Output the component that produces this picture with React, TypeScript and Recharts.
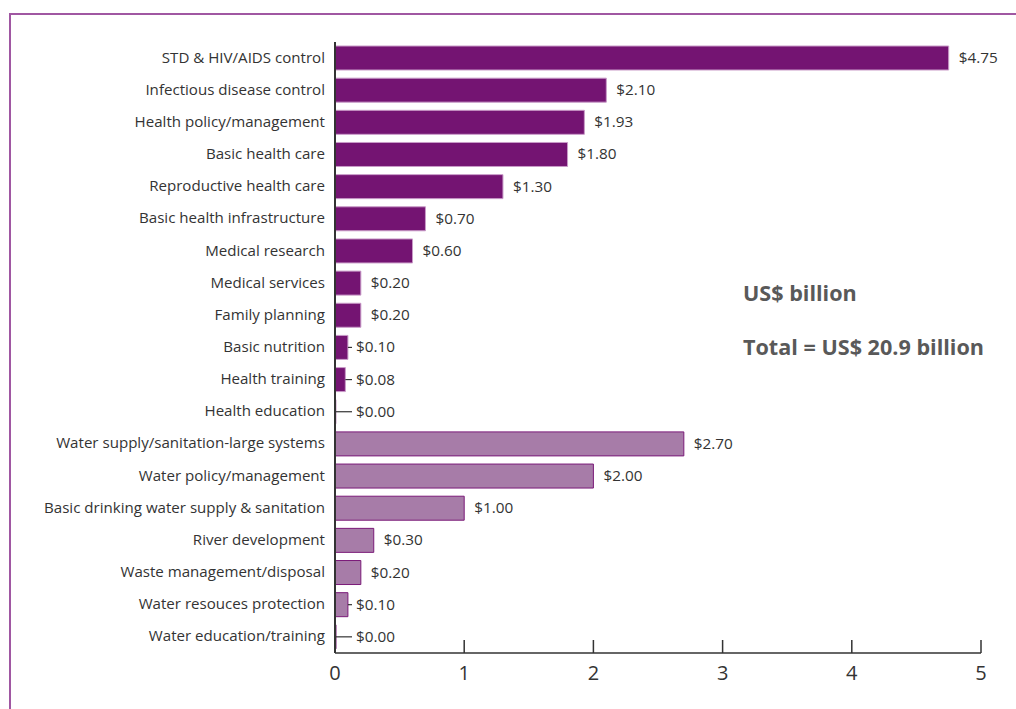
import React from "react";
import { BarChart, Bar, XAxis, YAxis, Cell, LabelList } from "recharts";

const healthCategories = [
  "STD & HIV/AIDS control",
  "Infectious disease control",
  "Health policy/management",
  "Basic health care",
  "Reproductive health care",
  "Basic health infrastructure",
  "Medical research",
  "Medical services",
  "Family planning",
  "Basic nutrition",
  "Health training",
  "Health education",
];
const healthValues = [4.75, 2.1, 1.93, 1.8, 1.3, 0.7, 0.6, 0.2, 0.2, 0.1, 0.08, 0.0];

const waterCategories = [
  "Water supply/sanitation-large systems",
  "Water policy/management",
  "Basic drinking water supply & sanitation",
  "River development",
  "Waste management/disposal",
  "Water resouces protection",
  "Water education/training",
];
const waterValues = [2.7, 2.0, 1.0, 0.3, 0.2, 0.1, 0.0];

const xTicks = [0, 1, 2, 3, 4, 5];

const data = [
  ...healthCategories.map((name, i) => ({ name, value: healthValues[i], group: "health" })),
  ...waterCategories.map((name, i) => ({ name, value: waterValues[i], group: "water" })),
];

const FONT = "'Open Sans', 'Noto Sans', sans-serif";
const TEXT = "#333333";

const XTick = (props: any) => {
  const { x, y, payload } = props;
  return (
    <g>
      {payload.value !== 0 && (
        <line x1={x} x2={x} y1={y} y2={y - 13} stroke="#333" strokeWidth={1.5} />
      )}
      <text x={x} y={y + 27} textAnchor="middle" fill={TEXT} fontSize={20} fontFamily={FONT}>
        {payload.value}
      </text>
    </g>
  );
};

const YTick = (props: any) => {
  const { x, y, payload } = props;
  return (
    <text x={x} y={y} dy={4.5} textAnchor="end" fill={TEXT} fontSize={15.1} fontFamily={FONT}>
      {payload.value}
    </text>
  );
};

const ValueLabel = (props: any) => {
  const { x, y, width, height, value } = props;
  const v = Number(value);
  const end = v === 0 ? x : x + width;
  const cy = y + height / 2;
  const small = v < 0.15;
  const lx = small ? 356 : end + 10;
  return (
    <g>
      {small && <line x1={end} x2={352} y1={cy} y2={cy} stroke="#333" strokeWidth={1.2} />}
      <text x={lx} y={cy} dy={5} fill={TEXT} fontSize={15.3} fontFamily={FONT}>
        {"$" + v.toFixed(2)}
      </text>
    </g>
  );
};

export default function App() {
  return (
    <div style={{ position: "absolute", left: 0, top: 0, width: 1016, height: 709, background: "#fff", overflow: "hidden" }}>
      <div
        style={{
          position: "absolute",
          left: 9,
          top: 13,
          width: 1020,
          height: 720,
          borderTop: "2px solid #a057a2",
          borderLeft: "2px solid #a057a2",
        }}
      />
      <div style={{ position: "absolute", left: 0, top: 0 }}>
        <BarChart
          width={1016}
          height={709}
          data={data}
          layout="vertical"
          margin={{ top: 42, right: 35, bottom: 0, left: 0 }}
          barSize={24}
        >
          <XAxis
            type="number"
            domain={[0, 5]}
            ticks={xTicks}
            interval={0}
            height={56}
            tickSize={0}
            tickMargin={0}
            tickLine={false}
            axisLine={{ stroke: "#333", strokeWidth: 1.5 }}
            tick={<XTick />}
          />
          <YAxis
            type="category"
            dataKey="name"
            width={335}
            interval={0}
            tickSize={0}
            tickMargin={10}
            tickLine={false}
            axisLine={{ stroke: "#333", strokeWidth: 2 }}
            tick={<YTick />}
          />
          <Bar dataKey="value" isAnimationActive={false} minPointSize={1}>
            {data.map((d, i) => (
              <Cell
                key={i}
                fill={d.group === "health" ? "#741472" : "#a77ca8"}
                stroke={d.group === "health" ? "#c99bc8" : "#7a1a78"}
                strokeWidth={1}
              />
            ))}
            <LabelList dataKey="value" content={<ValueLabel />} />
          </Bar>
        </BarChart>
      </div>
      <div
        style={{
          position: "absolute",
          left: 743,
          top: 279,
          fontFamily: FONT,
          fontWeight: "bold",
          fontSize: 21.6,
          color: "#595959",
          lineHeight: "28px",
          whiteSpace: "nowrap",
        }}
      >
        <div>US$ billion</div>
        <div style={{ marginTop: 26 }}>Total = US$ 20.9 billion</div>
      </div>
    </div>
  );
}
